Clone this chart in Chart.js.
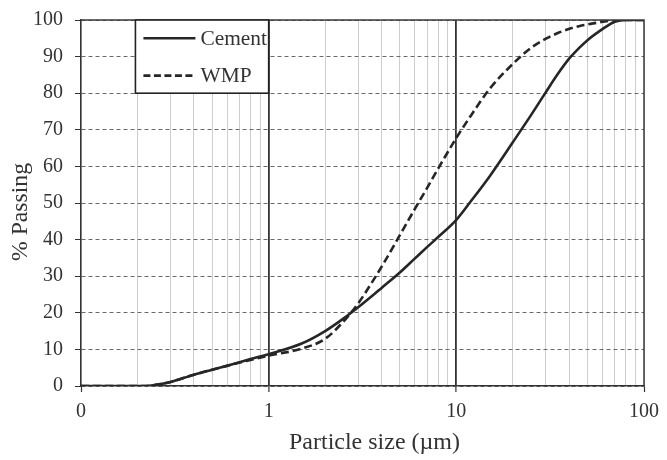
<!DOCTYPE html>
<html>
<head>
<meta charset="utf-8">
<script src="https://cdn.jsdelivr.net/npm/chart.js@4/dist/chart.umd.min.js"></script>
<style>
  html, body { margin: 0; padding: 0; background: #fff; }
  #wrap { width: 667px; height: 460px; }
</style>
</head>
<body>
<div id="wrap"><canvas id="c" width="667" height="460"></canvas></div>
<script>
// ---- data ----
const sizes  = [0.1, 0.15, 0.2, 0.22, 0.25, 0.3, 0.4, 0.5, 0.6, 0.7, 0.8, 1, 1.5, 2, 2.5, 3, 3.5, 4, 5, 6, 7, 8, 10, 12, 15, 20, 25, 30, 35, 40, 45, 50, 60, 65, 70, 75, 80, 90, 100];
const cement = [0, 0, 0, 0, 0.3, 1.1, 3.1, 4.45, 5.55, 6.5, 7.35, 8.7, 11.6, 15.0, 18.4, 21.5, 24.3, 26.8, 31.0, 34.8, 38.0, 40.7, 45.4, 50.6, 57.2, 66.6, 74.0, 80.3, 85.5, 89.5, 92.3, 94.5, 97.5, 98.7, 99.5, 99.9, 100, 100, 100];
const wmp    = [0, 0, 0, 0, 0.3, 1.1, 3.1, 4.45, 5.5, 6.4, 7.1, 8.3, 10.2, 12.9, 17.6, 22.6, 27.8, 32.6, 41.2, 48.3, 54.2, 59.4, 67.8, 74.0, 81.1, 88.0, 92.4, 94.9, 96.5, 97.6, 98.3, 98.8, 99.5, 99.8, 100, 100, 100, 100, 100];
const xTickValues = [0.1, 1, 10, 100];
const xTickText = ['0', '1', '10', '100'];
const yTicks = [0, 10, 20, 30, 40, 50, 60, 70, 80, 90, 100];
const seriesNames = ['Cement', 'WMP'];
const xTitle = 'Particle size (µm)';
const yTitle = '% Passing';

const FONT = "'Liberation Serif', 'Times New Roman', serif";
const INK = '#262626';
const TXT = '#333';

function majorIndex(v) {
  for (let i = 0; i < xTickValues.length; i++) {
    if (Math.abs(v - xTickValues[i]) < 1e-9 * xTickValues[i] + 1e-12) return i;
  }
  return -1;
}

function stretchedText(ctx, text, cx, cy, width) {
  const w = ctx.measureText(text).width;
  const s = width / w;
  ctx.save();
  ctx.translate(cx, cy);
  ctx.scale(s, 1);
  ctx.textAlign = 'center';
  ctx.fillText(text, 0, 0);
  ctx.restore();
}

const framePlugin = {
  id: 'frame',
  afterDraw(chart) {
    const { ctx, chartArea: a, scales } = chart;
    ctx.save();
    // frame top and right
    ctx.strokeStyle = '#3a3a3a';
    ctx.lineWidth = 1.5;
    ctx.beginPath();
    ctx.moveTo(a.left, a.top);
    ctx.lineTo(a.right, a.top);
    ctx.lineTo(a.right, a.bottom);
    ctx.stroke();
    // legend box
    const x = scales.x, y = scales.y;
    const L = x.getPixelForValue(0.195), R = x.getPixelForValue(1);
    const T = y.getPixelForValue(100), B = y.getPixelForValue(80);
    ctx.fillStyle = '#fff';
    ctx.fillRect(L, T, R - L, B - T);
    ctx.strokeStyle = '#222';
    ctx.lineWidth = 1.6;
    ctx.strokeRect(L, T, R - L, B - T);
    const rows = [T + (B - T) * 0.25, T + (B - T) * 0.76];
    const dashes = [[], [7, 3.5]];
    ctx.font = '20px ' + FONT;
    ctx.textBaseline = 'middle';
    for (let i = 0; i < seriesNames.length; i++) {
      ctx.strokeStyle = INK;
      ctx.lineWidth = 2.6;
      ctx.setLineDash(dashes[i]);
      ctx.beginPath();
      ctx.moveTo(L + 8, rows[i]);
      ctx.lineTo(L + 60, rows[i]);
      ctx.stroke();
      ctx.setLineDash([]);
      ctx.fillStyle = TXT;
      const w = ctx.measureText(seriesNames[i]).width * 1.07;
      stretchedText(ctx, seriesNames[i], L + 65 + w / 2, rows[i] + 1, w);
    }
    // axis titles
    ctx.fillStyle = TXT;
    ctx.font = '23px ' + FONT;
    ctx.textBaseline = 'alphabetic';
    stretchedText(ctx, xTitle, (a.left + a.right) / 2 + 12, 449, 171);
    ctx.save();
    ctx.translate(27, 212);
    ctx.rotate(-Math.PI / 2);
    stretchedText(ctx, yTitle, 0, 0, 98);
    ctx.restore();
    ctx.restore();
  }
};

const ctx = document.getElementById('c').getContext('2d');
new Chart(ctx, {
  type: 'line',
  data: {
    datasets: [
      {
        label: seriesNames[0],
        data: sizes.map((s, i) => ({ x: s, y: cement[i] })),
        borderColor: INK,
        borderWidth: 2.6,
        pointRadius: 0,
        cubicInterpolationMode: 'monotone',
        fill: false
      },
      {
        label: seriesNames[1],
        data: sizes.map((s, i) => ({ x: s, y: wmp[i] })),
        borderColor: INK,
        borderWidth: 2.6,
        borderDash: [8, 4],
        pointRadius: 0,
        cubicInterpolationMode: 'monotone',
        fill: false
      }
    ]
  },
  options: {
    responsive: false,
    animation: false,
    devicePixelRatio: 1,
    layout: { padding: { left: 0, right: 19, top: 20, bottom: 0 } },
    plugins: { legend: { display: false }, tooltip: { enabled: false } },
    scales: {
      x: {
        type: 'logarithmic',
        min: 0.1,
        max: 100,
        afterBuildTicks(scale) {
          const t = [];
          for (const d of [0.1, 1, 10]) {
            for (let k = 1; k <= 9; k++) t.push({ value: k * d });
          }
          t.push({ value: 100 });
          scale.ticks = t;
        },
        afterFit(scale) { scale.height = 74; },
        ticks: {
          autoSkip: false,
          maxRotation: 0,
          padding: 8,
          color: TXT,
          font: { family: FONT, size: 20 },
          callback(value) {
            const i = majorIndex(value);
            return i >= 0 ? xTickText[i] : '';
          }
        },
        grid: {
          color(c) { const v = c.tick ? c.tick.value : 0; const i = majorIndex(v); return (i === 1 || i === 2) ? '#333' : '#cdcdcd'; },
          lineWidth(c) { const v = c.tick ? c.tick.value : 0; const i = majorIndex(v); return (i === 1 || i === 2) ? 1.8 : 1; },
          tickColor(c) { const v = c.tick ? c.tick.value : 0; return majorIndex(v) >= 0 ? '#333' : 'rgba(0,0,0,0)'; },
          tickLength: 6,
          tickWidth: 1.2
        },
        border: { display: true, color: '#333', width: 1.5 },
        title: { display: false }
      },
      y: {
        min: 0,
        max: 100,
        afterBuildTicks(scale) { scale.ticks = yTicks.map(v => ({ value: v })); },
        afterFit(scale) { scale.width = 81; },
        ticks: {
          padding: 12,
          color: TXT,
          font: { family: FONT, size: 20, lineHeight: 0.5 }
        },
        grid: {
          color: '#6a6a6a',
          lineWidth: 1,
          tickColor: '#333',
          tickLength: 6,
          tickBorderDash: []
        },
        border: { display: true, color: '#333', width: 1.5, dash: [4, 3] },
        title: { display: false }
      }
    }
  },
  plugins: [framePlugin]
});
</script>
</body>
</html>
